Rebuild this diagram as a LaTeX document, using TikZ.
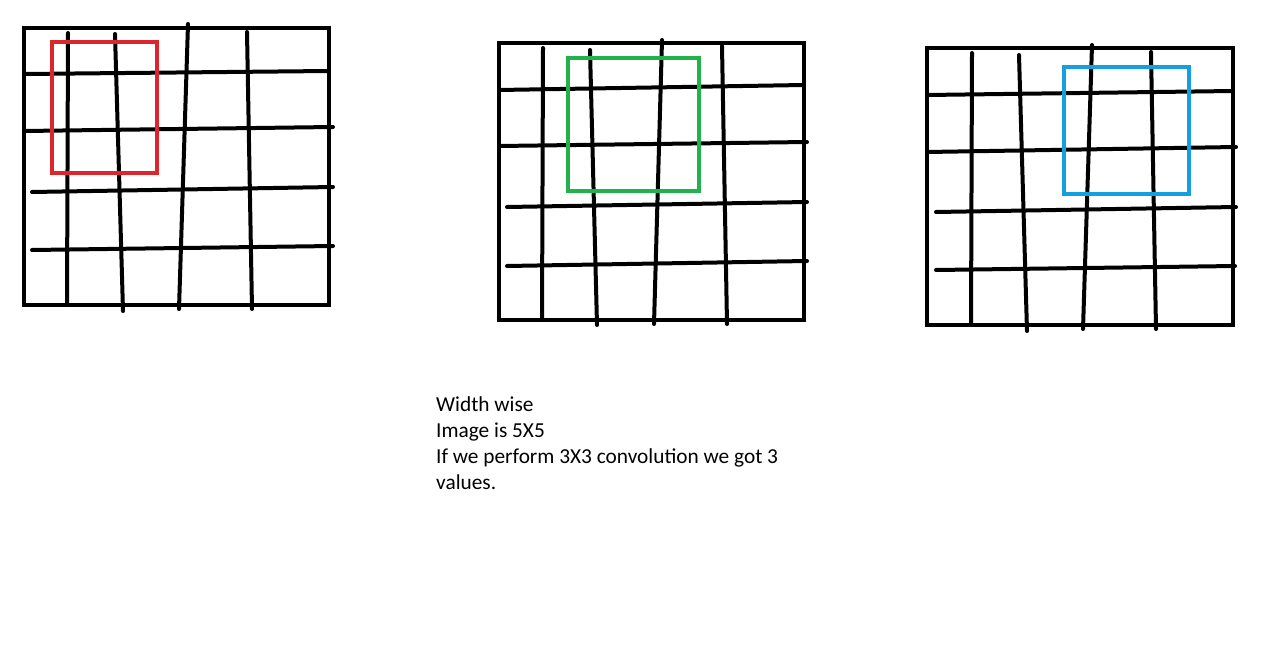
\documentclass[tikz,border=0pt]{standalone}
\usepackage{fontspec}
\setmainfont{Carlito}
\definecolor{redbox}{RGB}{221,37,45}
\definecolor{greenbox}{RGB}{34,177,76}
\definecolor{bluebox}{RGB}{20,160,222}
\begin{document}
\begin{tikzpicture}[x=1pt,y=-1pt,
  outer/.style={line width=4pt,draw=black},
  gridline/.style={line width=4pt,draw=black,line cap=round},
  window/.style={line width=4pt},
  txt/.style={anchor=base west,inner sep=0pt,font=\fontsize{21.33}{26}\selectfont}]
\useasboundingbox[fill=white] (0,0) rectangle (1268,650);
% ---- grid 1 ----
\draw[gridline] (68,33) -- (67,305);
\draw[gridline] (115,34) -- (123,311);
\draw[gridline] (188,24) -- (179,309);
\draw[gridline] (247,32) -- (252,309);
\draw[gridline] (24,74) -- (329,71);
\draw[gridline] (24,131) -- (333,127);
\draw[gridline] (32,192) -- (333,187);
\draw[gridline] (32,250) -- (333,246);
\draw[outer] (24,28) rectangle (329,305);
\draw[window,draw=redbox] (52,42) rectangle (157,173);
% ---- grid 2 ----
\draw[gridline] (543,48) -- (542,320);
\draw[gridline] (590,50) -- (597,325);
\draw[gridline] (662,40) -- (654,324);
\draw[gridline] (722,46) -- (727,324);
\draw[gridline] (499,90) -- (804,85);
\draw[gridline] (499,146) -- (807,142);
\draw[gridline] (507,207) -- (807,202);
\draw[gridline] (507,266) -- (807,261);
\draw[outer] (499,43) rectangle (804,320);
\draw[window,draw=greenbox] (568,58) rectangle (699,191);
% ---- grid 3 ----
\draw[gridline] (972,53) -- (971,325);
\draw[gridline] (1019,55) -- (1027,331);
\draw[gridline] (1092,45) -- (1083,329);
\draw[gridline] (1151,52) -- (1156,329);
\draw[gridline] (927,95) -- (1233,91);
\draw[gridline] (927,152) -- (1236,147);
\draw[gridline] (936,212) -- (1236,207);
\draw[gridline] (936,270) -- (1235,266);
\draw[outer] (927,48) rectangle (1233,325);
\draw[window,draw=bluebox] (1064,67) rectangle (1189,194);
% ---- text ----
\node[txt] (l1) at (436,411) {Width wise};
\node[txt] (l2) at (436,437) {Image is 5X5};
\node[txt] (l3) at (436,463) {If we perform 3X3 convolution we got 3};
\node[txt] (l4) at (436,489) {values.};
\end{tikzpicture}
\end{document}
